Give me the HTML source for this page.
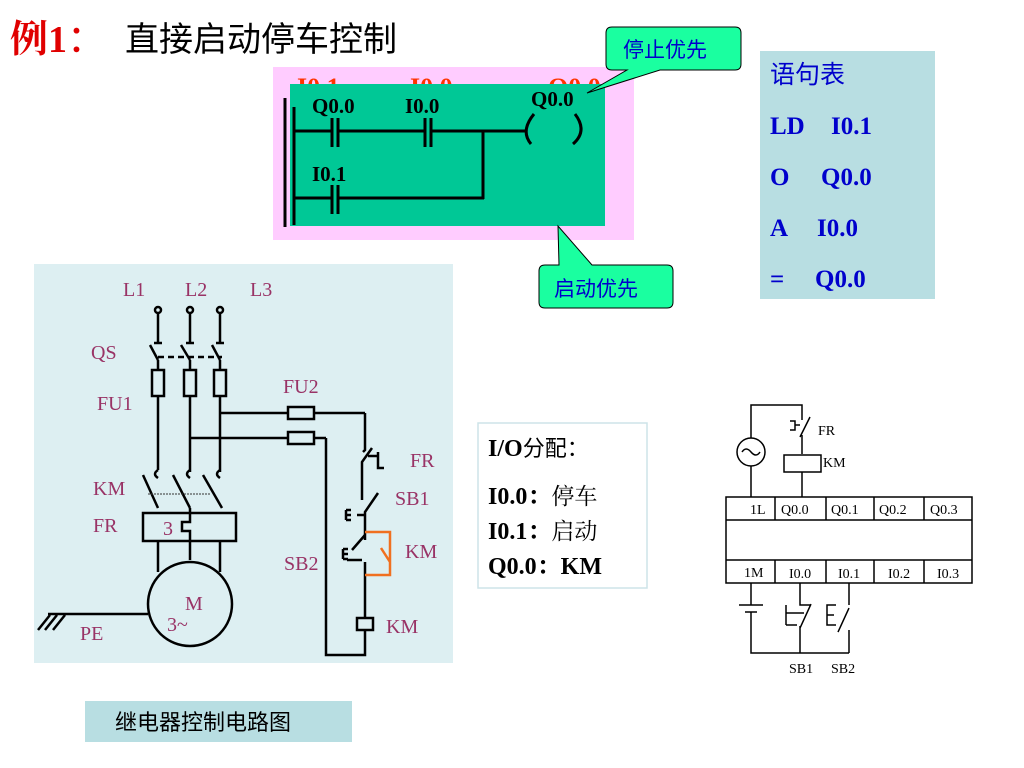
<!DOCTYPE html>
<html><head><meta charset="utf-8"><style>
html,body{margin:0;padding:0;background:#fff;width:1024px;height:768px;overflow:hidden}
svg{display:block}
.s{font-family:"Liberation Serif","Noto Serif CJK SC",serif}
.c{font-family:"Liberation Sans","Noto Sans CJK SC",sans-serif}
</style></head><body>
<svg width="1024" height="768" viewBox="0 0 1024 768" xmlns="http://www.w3.org/2000/svg">
<!-- title -->
<text x="10" y="52" class="s" font-size="38" font-weight="bold" fill="#e00000">例1<tspan class="c" font-weight="normal">：</tspan></text>
<text x="125" y="51" class="c" font-size="34" fill="#000">直接启动停车控制</text>

<!-- ladder -->
<rect x="273" y="67" width="361" height="173" fill="#ffccff"/>
<text x="297" y="96" class="s" font-size="26" font-weight="bold" fill="#ff3300">I0.1</text>
<text x="410" y="96" class="s" font-size="26" font-weight="bold" fill="#ff3300">I0.0</text>
<text x="548" y="96" class="s" font-size="26" font-weight="bold" fill="#ff3300">Q0.0</text>
<rect x="290" y="84" width="315" height="142" fill="#00c896"/>
<g stroke="#000" stroke-width="3" fill="none">
<line x1="285" y1="98" x2="285" y2="227"/><line x1="294" y1="107" x2="294" y2="225"/>
<line x1="294" y1="131" x2="331" y2="131"/><line x1="339" y1="131" x2="424" y2="131"/>
<line x1="432" y1="131" x2="527" y2="131"/>
<line x1="332" y1="118" x2="332" y2="147"/><line x1="338" y1="118" x2="338" y2="147"/>
<line x1="425" y1="118" x2="425" y2="147"/><line x1="431" y1="118" x2="431" y2="147"/>
<line x1="483" y1="131" x2="483" y2="199"/>
<line x1="294" y1="198" x2="331" y2="198"/><line x1="339" y1="198" x2="484" y2="198"/>
<line x1="332" y1="185" x2="332" y2="214"/><line x1="338" y1="185" x2="338" y2="214"/>
<path d="M534 114 Q520 131 531 144"/><path d="M575 114 Q588 131 573 144"/>
</g>
<text x="312" y="113" class="s" font-size="21" font-weight="bold">Q0.0</text>
<text x="405" y="113" class="s" font-size="21" font-weight="bold">I0.0</text>
<text x="312" y="181" class="s" font-size="21" font-weight="bold">I0.1</text>
<text x="531" y="106" class="s" font-size="21" font-weight="bold">Q0.0</text>

<!-- callouts -->
<path d="M612 27 H735 Q741 27 741 33 V64 Q741 70 735 70 H660 L587 93 L627 70 H612 Q606 70 606 64 V33 Q606 27 612 27 Z" fill="#1affa0" stroke="#000" stroke-width="1"/>
<text x="623" y="57" class="c" font-size="21" fill="#0000cc">停止优先</text>
<path d="M545 265 H559 L558 226 L592 265 H667 Q673 265 673 271 V302 Q673 308 667 308 H545 Q539 308 539 302 V271 Q539 265 545 265 Z" fill="#1affa0" stroke="#000" stroke-width="1"/>
<text x="554" y="296" class="c" font-size="21" fill="#0000cc">启动优先</text>

<!-- statement table -->
<rect x="760" y="51" width="175" height="248" fill="#b8dee2"/>
<g class="s" font-size="25" font-weight="bold" fill="#0000cc">
<text x="770" y="83" class="c" font-weight="normal" font-size="25">语句表</text>
<text x="770" y="134">LD</text><text x="831" y="134">I0.1</text>
<text x="770" y="185">O</text><text x="821" y="185">Q0.0</text>
<text x="770" y="236">A</text><text x="817" y="236">I0.0</text>
<text x="770" y="287">=</text><text x="815" y="287">Q0.0</text>
</g>

<!-- relay panel -->
<rect x="34" y="264" width="419" height="399" fill="#ddeff2"/>
<g stroke="#000" stroke-width="2.5" fill="none">
<circle cx="158" cy="310" r="3"/><circle cx="190" cy="310" r="3"/><circle cx="220" cy="310" r="3"/>
<line x1="158" y1="313" x2="158" y2="343"/><line x1="190" y1="313" x2="190" y2="343"/><line x1="220" y1="313" x2="220" y2="343"/>
<line x1="154" y1="343" x2="162" y2="343"/><line x1="186" y1="343" x2="194" y2="343"/><line x1="216" y1="343" x2="224" y2="343"/>
<line x1="150" y1="345" x2="158" y2="360"/><line x1="181" y1="345" x2="190" y2="360"/><line x1="212" y1="345" x2="220" y2="360"/>
<line x1="158" y1="360" x2="158" y2="470"/><line x1="190" y1="360" x2="190" y2="472"/><line x1="220" y1="360" x2="220" y2="472"/>
<rect x="152" y="370" width="12" height="26" fill="#ddeff2"/><rect x="184" y="370" width="12" height="26" fill="#ddeff2"/><rect x="214" y="370" width="12" height="26" fill="#ddeff2"/>
<line x1="220" y1="413" x2="365" y2="413"/><line x1="190" y1="438" x2="326" y2="438"/>
<rect x="288" y="407" width="26" height="12" fill="#ddeff2"/><rect x="288" y="432" width="26" height="12" fill="#ddeff2"/>
<path d="M365 413 V450 L363 452"/><path d="M372 448 L362 462 V500"/><path d="M368 456 H378 V460 M378 452 V468 H384"/>
<path d="M378 493 L365 512 V540"/><path d="M357 515 H365"/>
<path d="M365 535 L352 550"/><path d="M347 560 H362"/><path d="M365 562 V618"/>
<rect x="357" y="618" width="16" height="12" fill="#ddeff2"/>
<path d="M365 630 V655 H326 V438"/>
<path d="M158 470 Q152 474 158 478 M190 470 Q184 474 190 478 M220 470 Q214 474 220 478"/>
<line x1="143" y1="475" x2="158" y2="508"/><line x1="173" y1="475" x2="190" y2="508"/><line x1="203" y1="475" x2="222" y2="508"/>
<rect x="143" y="513" width="93" height="28" fill="#ddeff2"/>
<path d="M158 541 V572 M190 541 V560 M220 541 V572"/>
<path d="M190 508 V522 H182 V531 H190 V541"/>
<circle cx="190" cy="604" r="42" fill="#ddeff2"/>
<line x1="48" y1="614" x2="148" y2="614"/>
<line x1="38" y1="630" x2="50" y2="615"/><line x1="45" y1="630" x2="57" y2="615"/><line x1="53" y1="630" x2="65" y2="615"/>
</g>
<g class="s" font-size="20" fill="#993366">
<text x="123" y="296">L1</text><text x="185" y="296">L2</text><text x="250" y="296">L3</text>
<text x="91" y="359">QS</text><text x="97" y="410">FU1</text><text x="283" y="393">FU2</text>
<text x="410" y="467">FR</text><text x="395" y="505">SB1</text><text x="405" y="558">KM</text>
<text x="284" y="570">SB2</text><text x="386" y="633">KM</text>
<text x="93" y="495">KM</text><text x="93" y="532">FR</text><text x="80" y="640">PE</text>
<text x="185" y="610">M</text><text x="167" y="631">3~</text><text x="163" y="535">3</text>
</g>
<path d="M158 357 H222" stroke="#000" stroke-width="2.5" stroke-dasharray="6,4"/>
<path d="M148 494 H210" stroke="#333" stroke-width="1" stroke-dasharray="2,1"/>
<g stroke="#000" stroke-width="2.5" fill="none"><path d="M346 510 V520 M346 510 H351 M346 515 H351 M346 520 H351"/><path d="M343 549 V559 M343 549 H348 M343 554 H348 M343 559 H348"/></g>
<path d="M365 532 H390 V575 H365 M390 562 L381 548" stroke="#f07020" stroke-width="2.5" fill="none"/>

<!-- IO box -->
<rect x="478" y="423" width="169" height="165" fill="#fff" stroke="#cde4e8" stroke-width="1.5"/>
<g class="s" font-size="24" font-weight="bold" fill="#000">
<text x="488" y="456">I/O<tspan font-weight="normal" class="c" font-size="22">分配：</tspan></text>
<text x="488" y="504">I0.0：<tspan font-weight="normal" font-size="23">停车</tspan></text>
<text x="488" y="539">I0.1：<tspan font-weight="normal" font-size="23">启动</tspan></text>
<text x="488" y="574">Q0.0：KM</text>
</g>

<!-- PLC -->
<g stroke="#000" stroke-width="1.5" fill="none">
<rect x="726" y="497" width="246" height="86"/>
<line x1="726" y1="520" x2="972" y2="520"/><line x1="726" y1="560" x2="972" y2="560"/>
<line x1="775" y1="497" x2="775" y2="520"/><line x1="826" y1="497" x2="826" y2="520"/><line x1="874" y1="497" x2="874" y2="520"/><line x1="924" y1="497" x2="924" y2="520"/>
<line x1="775" y1="560" x2="775" y2="583"/><line x1="826" y1="560" x2="826" y2="583"/><line x1="874" y1="560" x2="874" y2="583"/><line x1="924" y1="560" x2="924" y2="583"/>
<path d="M751 497 V466 M751 438 V405 H802 V420 M802 435 V454 M802 472 V497"/>
<circle cx="751" cy="452" r="14"/><path d="M742 452 Q746 446 751 452 Q756 458 760 452"/>
<rect x="784" y="455" width="37" height="17"/>
<path d="M810 417 L800 437 M790 421 H795 V430 H790 M795 425 H800"/>
<path d="M751 583 V605 M739 605 H763 M745 612 H757 M751 612 V653 H849"/>
<path d="M800 583 V605 L811 605 M811 604 L800 628 M800 626 V653 M804 613 H786 M786 605 V625 M786 625 H797"/>
<path d="M849 583 V605 M849 608 L838 632 M849 630 V653 M836 605 H827 V625 H836 M827 615 H834"/>
</g>
<g class="s" font-size="14" fill="#000">
<text x="818" y="435">FR</text><text x="823" y="467">KM</text>
<text x="750" y="514">1L</text><text x="781" y="514">Q0.0</text><text x="831" y="514">Q0.1</text><text x="879" y="514">Q0.2</text><text x="930" y="514">Q0.3</text>
<text x="744" y="577">1M</text><text x="789" y="578">I0.0</text><text x="838" y="578">I0.1</text><text x="888" y="578">I0.2</text><text x="937" y="578">I0.3</text>
<text x="789" y="673">SB1</text><text x="831" y="673">SB2</text>
</g>

<!-- caption -->
<rect x="85" y="701" width="267" height="41" fill="#b8dee2"/>
<text x="115" y="730" class="c" font-size="22" fill="#000">继电器控制电路图</text>
</svg>
</body></html>
